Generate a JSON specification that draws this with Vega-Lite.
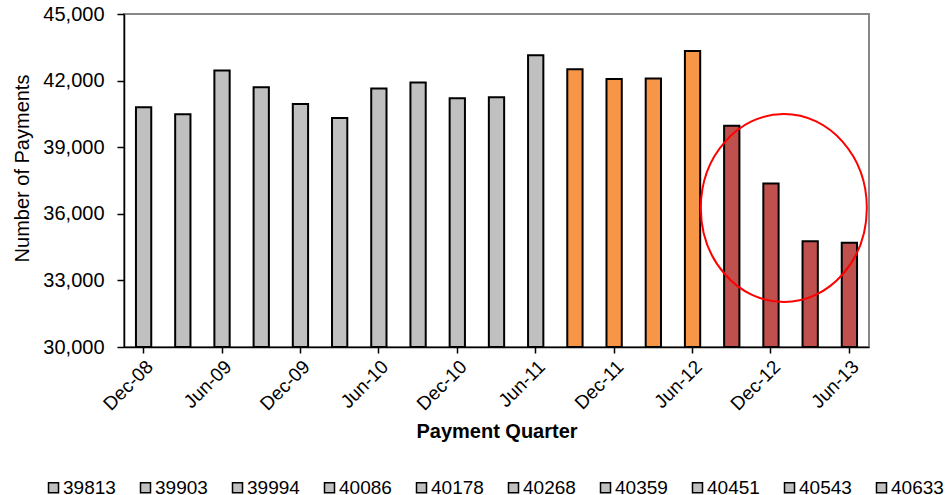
{
  "$schema": "https://vega.github.io/schema/vega-lite/v6.json",
  "width": 745,
  "height": 333,
  "autosize": {"type": "none"},
  "padding": {"left": 124, "top": 14, "right": 77, "bottom": 148},
  "background": "white",
  "config": {
    "font": "Liberation Sans",
    "view": {"stroke": "#888888", "strokeWidth": 2},
    "axis": {
      "grid": false,
      "domainColor": "#000000",
      "domainWidth": 1.5,
      "tickColor": "#000000",
      "tickWidth": 1.5,
      "labelColor": "#000000",
      "titleColor": "#000000"
    }
  },
  "data": {
    "values": [
      {"quarter": "Dec-08", "serial": "39813", "payments": 40800},
      {"quarter": "Mar-09", "serial": "39903", "payments": 40480},
      {"quarter": "Jun-09", "serial": "39994", "payments": 42460},
      {"quarter": "Sep-09", "serial": "40086", "payments": 41700},
      {"quarter": "Dec-09", "serial": "40178", "payments": 40950},
      {"quarter": "Mar-10", "serial": "40268", "payments": 40320},
      {"quarter": "Jun-10", "serial": "40359", "payments": 41640},
      {"quarter": "Sep-10", "serial": "40451", "payments": 41920},
      {"quarter": "Dec-10", "serial": "40543", "payments": 41200},
      {"quarter": "Mar-11", "serial": "40633", "payments": 41250},
      {"quarter": "Jun-11", "serial": "40724", "payments": 43140},
      {"quarter": "Sep-11", "serial": "40816", "payments": 42510},
      {"quarter": "Dec-11", "serial": "40908", "payments": 42070},
      {"quarter": "Mar-12", "serial": "40999", "payments": 42100},
      {"quarter": "Jun-12", "serial": "41090", "payments": 43330},
      {"quarter": "Sep-12", "serial": "41182", "payments": 39970},
      {"quarter": "Dec-12", "serial": "41274", "payments": 37370},
      {"quarter": "Mar-13", "serial": "41364", "payments": 34760},
      {"quarter": "Jun-13", "serial": "41455", "payments": 34700}
    ]
  },
  "layer": [
    {
      "mark": {"type": "bar", "stroke": "#000000", "strokeWidth": 2, "fillOpacity": 1},
      "encoding": {
        "x": {
          "field": "quarter",
          "type": "ordinal",
          "sort": null,
          "scale": {"paddingInner": 0.61, "paddingOuter": 0.305},
          "axis": {
            "title": "Payment Quarter",
            "titleFontSize": 20,
            "titleFontWeight": "bold",
            "titlePadding": 8,
            "labelAngle": -45,
            "labelAlign": "right",
            "labelBaseline": "top",
            "labelFontSize": 19,
            "labelPadding": 4,
            "tickSize": 6,
            "values": ["Dec-08", "Jun-09", "Dec-09", "Jun-10", "Dec-10", "Jun-11", "Dec-11", "Jun-12", "Dec-12", "Jun-13"]
          }
        },
        "y": {
          "field": "payments",
          "type": "quantitative",
          "stack": null,
          "scale": {"domain": [30000, 45000], "zero": false, "nice": false},
          "axis": {
            "title": "Number of Payments",
            "titleFontSize": 20,
            "titleFontWeight": "normal",
            "titlePadding": 10,
            "titleY": 154,
            "values": [30000, 33000, 36000, 39000, 42000, 45000],
            "format": ",d",
            "labelFontSize": 20,
            "tickSize": 7,
            "labelPadding": 13
          }
        },
        "color": {
          "field": "serial",
          "type": "nominal",
          "scale": {
            "domain": ["39813", "39903", "39994", "40086", "40178", "40268", "40359", "40451", "40543", "40633", "40724", "40816", "40908", "40999", "41090", "41182", "41274", "41364", "41455"],
            "range": ["#C0C0C0", "#C0C0C0", "#C0C0C0", "#C0C0C0", "#C0C0C0", "#C0C0C0", "#C0C0C0", "#C0C0C0", "#C0C0C0", "#C0C0C0", "#C0C0C0", "#F79646", "#F79646", "#F79646", "#F79646", "#C0504D", "#C0504D", "#C0504D", "#C0504D"]
          },
          "legend": {
            "title": null,
            "orient": "none",
            "legendX": -80,
            "legendY": 464,
            "direction": "horizontal",
            "columns": 10,
            "values": ["39813", "39903", "39994", "40086", "40178", "40268", "40359", "40451", "40543", "40633"],
            "symbolType": "square",
            "symbolSize": 100,
            "symbolStrokeColor": "#000000",
            "symbolStrokeWidth": 1.5,
            "symbolOpacity": 1,
            "labelFontSize": 19,
            "labelColor": "#000000",
            "labelOffset": 0,
            "columnPadding": 20
          }
        }
      }
    },
    {
      "data": {"values": [{"quarter": "Dec-12", "payments": 36260}]},
      "mark": {
        "type": "point",
        "filled": false,
        "color": "#FF0000",
        "strokeWidth": 2,
        "opacity": 1,
        "size": 35344,
        "shape": "M0,-1 C0.4877,-1 0.883,-0.5523 0.883,0 C0.883,0.5523 0.4877,1 0,1 C-0.4877,1 -0.883,0.5523 -0.883,0 C-0.883,-0.5523 -0.4877,-1 0,-1 Z"
      },
      "encoding": {
        "x": {"field": "quarter", "type": "ordinal", "sort": null, "bandPosition": 1.34},
        "y": {"field": "payments", "type": "quantitative"}
      }
    }
  ]
}
